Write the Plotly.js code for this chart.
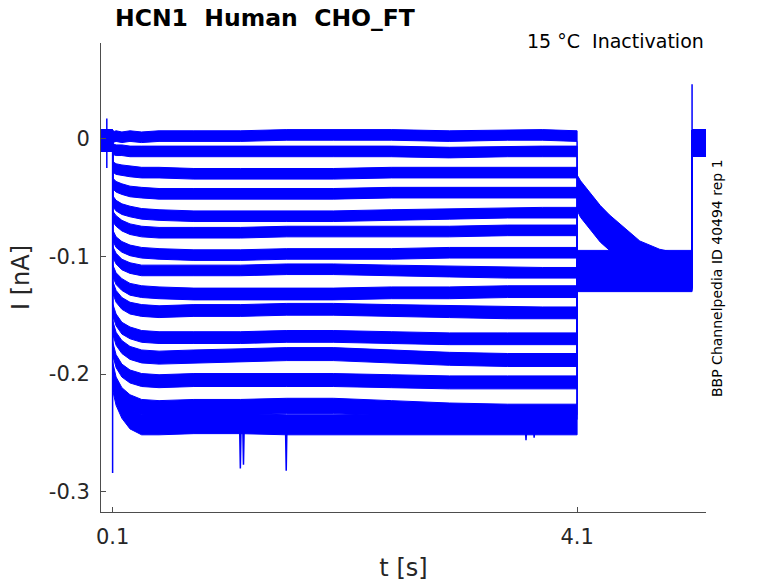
<!DOCTYPE html>
<html>
<head>
<meta charset="utf-8">
<script src="https://cdn.plot.ly/plotly-3.0.1.min.js"></script>
<style>html,body{margin:0;padding:0;background:#fff;}#chart{width:778px;height:583px;}</style>
</head>
<body>
<div id="chart"></div>
<script>
// ---- data ----
// shared time bases (s)
var T_PRE  = [0, 0.05, 0.1];
var T_STEP = [0.1, 0.13, 0.18, 0.25, 0.35, 0.5, 0.8, 1.2, 1.6, 2.0, 2.5, 3.0, 3.5, 3.8, 4.1];
var T_POST = [4.1, 4.13, 4.21, 4.3, 4.38, 4.53, 4.64, 4.81, 4.95, 5.09];
var T_END  = [5.09, 5.21];

// holding level before the step and after the return (nA)
var PRE_LEVEL = [-0.002, -0.002, -0.002];
var END_LEVEL = [-0.004, -0.004];

// current during the conditioning step (nA), one row per sweep
var STEP = [
  [0.001, 0.002, 0.001, 0.002, 0.001, 0.002, 0.002, 0.002, 0.003, 0.003, 0.003, 0.002, 0.003, 0.003, 0.002],
  [-0.009, -0.010, -0.010, -0.011, -0.011, -0.011, -0.011, -0.011, -0.011, -0.011, -0.011, -0.012, -0.011, -0.011, -0.011],
  [-0.024, -0.026, -0.027, -0.028, -0.029, -0.029, -0.030, -0.030, -0.030, -0.030, -0.029, -0.029, -0.029, -0.029, -0.029],
  [-0.038, -0.041, -0.043, -0.045, -0.046, -0.047, -0.047, -0.047, -0.047, -0.047, -0.046, -0.046, -0.046, -0.046, -0.046],
  [-0.053, -0.057, -0.060, -0.062, -0.064, -0.065, -0.066, -0.066, -0.066, -0.066, -0.065, -0.064, -0.063, -0.063, -0.063],
  [-0.066, -0.070, -0.074, -0.077, -0.079, -0.080, -0.080, -0.080, -0.079, -0.079, -0.079, -0.079, -0.078, -0.078, -0.078],
  [-0.082, -0.088, -0.092, -0.095, -0.097, -0.098, -0.099, -0.099, -0.098, -0.098, -0.098, -0.097, -0.097, -0.097, -0.097],
  [-0.096, -0.102, -0.107, -0.110, -0.112, -0.112, -0.112, -0.112, -0.111, -0.111, -0.112, -0.113, -0.114, -0.114, -0.114],
  [-0.112, -0.119, -0.124, -0.128, -0.130, -0.131, -0.132, -0.132, -0.132, -0.132, -0.131, -0.131, -0.130, -0.130, -0.130],
  [-0.126, -0.134, -0.140, -0.144, -0.146, -0.147, -0.146, -0.146, -0.145, -0.145, -0.146, -0.147, -0.148, -0.148, -0.148],
  [-0.145, -0.154, -0.161, -0.165, -0.168, -0.169, -0.169, -0.169, -0.168, -0.168, -0.169, -0.170, -0.170, -0.170, -0.170],
  [-0.160, -0.170, -0.177, -0.182, -0.185, -0.186, -0.185, -0.184, -0.183, -0.183, -0.185, -0.187, -0.188, -0.188, -0.188],
  [-0.178, -0.189, -0.197, -0.202, -0.205, -0.206, -0.205, -0.205, -0.205, -0.205, -0.206, -0.207, -0.207, -0.207, -0.207],
  [-0.196, -0.209, -0.218, -0.224, -0.228, -0.229, -0.228, -0.228, -0.227, -0.227, -0.229, -0.231, -0.232, -0.232, -0.232],
  [-0.205, -0.218, -0.229, -0.238, -0.243, -0.243, -0.242, -0.242, -0.243, -0.243, -0.243, -0.243, -0.243, -0.243, -0.243]
];

// current during the test pulse (nA), one row per sweep
var POST = [
  [-0.040, -0.045, -0.055, -0.066, -0.074, -0.087, -0.096, -0.103, -0.106, -0.108],
  [-0.052, -0.058, -0.068, -0.079, -0.086, -0.096, -0.102, -0.106, -0.108, -0.109],
  [-0.106, -0.106, -0.106, -0.106, -0.106, -0.106, -0.106, -0.106, -0.106, -0.106],
  [-0.108, -0.108, -0.108, -0.108, -0.108, -0.108, -0.108, -0.108, -0.108, -0.108],
  [-0.110, -0.110, -0.110, -0.110, -0.110, -0.110, -0.110, -0.110, -0.110, -0.110],
  [-0.111, -0.111, -0.111, -0.111, -0.111, -0.111, -0.111, -0.111, -0.111, -0.111],
  [-0.112, -0.112, -0.112, -0.112, -0.112, -0.112, -0.112, -0.112, -0.112, -0.112],
  [-0.113, -0.113, -0.113, -0.113, -0.113, -0.113, -0.113, -0.113, -0.113, -0.113],
  [-0.114, -0.114, -0.114, -0.114, -0.114, -0.114, -0.114, -0.114, -0.114, -0.114],
  [-0.115, -0.115, -0.115, -0.115, -0.115, -0.115, -0.115, -0.115, -0.115, -0.115],
  [-0.116, -0.116, -0.116, -0.116, -0.116, -0.116, -0.116, -0.116, -0.116, -0.116],
  [-0.116, -0.116, -0.116, -0.116, -0.116, -0.116, -0.116, -0.116, -0.116, -0.116],
  [-0.117, -0.117, -0.117, -0.117, -0.117, -0.117, -0.117, -0.117, -0.117, -0.117],
  [-0.118, -0.118, -0.118, -0.118, -0.118, -0.118, -0.118, -0.118, -0.118, -0.118],
  [-0.119, -0.119, -0.119, -0.119, -0.119, -0.119, -0.119, -0.119, -0.119, -0.119]
];

// half-width of the noise band of each sweep (nA)
var NOISE_PRE  = 0.009;
var NOISE_STEP = [0.0045, 0.0045, 0.0045, 0.0045, 0.0045, 0.0045, 0.0045, 0.0045, 0.005, 0.005, 0.005, 0.0055, 0.0055, 0.0065, 0.0085];
var NOISE_POST = [0.009, 0.009, 0.011, 0.011, 0.011, 0.011, 0.011, 0.011, 0.011, 0.011, 0.011, 0.011, 0.011, 0.011, 0.011];
var NOISE_END  = 0.011;

// single-sample spikes / transients: time, low and high current (nA)
var SPIKE_T  = [0.05, 0.1, 5.09];
var SPIKE_LO = [-0.025, -0.284, -0.125];
var SPIKE_HI = [0.017, -0.002, 0.046];

// short downward glitches on the largest sweep: time, depth (nA)
var GLITCH_T     = [1.20, 1.227, 1.595, 3.66, 3.73];
var GLITCH_DEPTH = [-0.280, -0.277, -0.282, -0.256, -0.254];
var GLITCH_BASE  = -0.245;

var TICK_X = [0.1, 4.1];
var TICK_X_TEXT = ['0.1', '4.1'];
var TICK_Y = [-0.3, -0.2, -0.1, 0];
var TICK_Y_TEXT = ['-0.3', '-0.2', '-0.1', '0'];

// ---- build traces ----
var BLUE = '#0000ff';
var traces = [];
for (var k = 0; k < STEP.length; k++) {
  var xs = [], ys = [], ss = [];
  T_PRE.forEach(function (t, i) { xs.push(t); ys.push(PRE_LEVEL[i]); ss.push(NOISE_PRE); });
  T_STEP.forEach(function (t, i) { xs.push(t); ys.push(STEP[k][i]); ss.push(NOISE_STEP[k]); });
  T_POST.forEach(function (t, i) { xs.push(t); ys.push(POST[k][i]); ss.push(NOISE_POST[k]); });
  T_END.forEach(function (t, i) { xs.push(t); ys.push(END_LEVEL[i]); ss.push(NOISE_END); });
  var px = [], py = [];
  for (var i = 0; i < xs.length; i++) { px.push(xs[i]); py.push(ys[i] + ss[i]); }
  for (var j = xs.length - 1; j >= 0; j--) { px.push(xs[j]); py.push(ys[j] - ss[j]); }
  traces.push({
    type: 'scatter', mode: 'lines', x: px, y: py,
    fill: 'toself', fillcolor: BLUE,
    line: { color: BLUE, width: 1 }, hoverinfo: 'skip', showlegend: false
  });
}
for (var s = 0; s < SPIKE_T.length; s++) {
  traces.push({
    type: 'scatter', mode: 'lines',
    x: [SPIKE_T[s], SPIKE_T[s]], y: [SPIKE_LO[s], SPIKE_HI[s]],
    line: { color: BLUE, width: 1.5 }, hoverinfo: 'skip', showlegend: false
  });
}
for (var g = 0; g < GLITCH_T.length; g++) {
  traces.push({
    type: 'scatter', mode: 'lines',
    x: [GLITCH_T[g] - 0.006, GLITCH_T[g], GLITCH_T[g] + 0.006],
    y: [GLITCH_BASE, GLITCH_DEPTH[g], GLITCH_BASE],
    line: { color: BLUE, width: 1.5 }, hoverinfo: 'skip', showlegend: false
  });
}

var FONT = 'DejaVu Sans, sans-serif';
var AX = '#4d4d4d';
var layout = {
  width: 778, height: 583,
  margin: { l: 101, r: 72, t: 43, b: 71, pad: 0 },
  paper_bgcolor: '#ffffff', plot_bgcolor: '#ffffff',
  showlegend: false, hovermode: false,
  title: {
    text: '<b>HCN1\u00a0 Human\u00a0 CHO_FT</b>',
    font: { family: FONT, size: 23.5, color: '#000000' },
    xref: 'container', yref: 'container',
    x: 115 / 778, xanchor: 'left', y: 1 - 18 / 583, yanchor: 'middle'
  },
  xaxis: {
    range: [0, 5.21], showgrid: false, zeroline: false,
    showline: true, linecolor: AX, linewidth: 1, mirror: false,
    ticks: 'inside', ticklen: 5, tickcolor: AX, tickwidth: 1,
    tickvals: TICK_X, ticktext: TICK_X_TEXT,
    tickfont: { family: FONT, size: 21, color: '#262626' },
    ticklabelstandoff: 6,
    title: { text: 't [s]', font: { family: FONT, size: 24, color: '#262626' }, standoff: 10 }
  },
  yaxis: {
    range: [-0.317, 0.081], showgrid: false, zeroline: false,
    showline: true, linecolor: AX, linewidth: 1, mirror: false,
    ticks: 'inside', ticklen: 5, tickcolor: AX, tickwidth: 1,
    tickvals: TICK_Y, ticktext: TICK_Y_TEXT,
    tickfont: { family: FONT, size: 21, color: '#262626' },
    ticklabelstandoff: 6,
    title: { text: 'I [nA]', font: { family: FONT, size: 24, color: '#262626' }, standoff: 12 }
  },
  annotations: [
    {
      text: '15 °C\u00a0 Inactivation', xref: 'paper', yref: 'paper',
      x: 1, xanchor: 'right', y: (512 - 41) / 469, yanchor: 'middle',
      showarrow: false, font: { family: FONT, size: 19, color: '#000000' }
    },
    {
      text: 'BBP Channelpedia ID 40494 rep 1', xref: 'paper', yref: 'paper',
      x: (717 - 101) / 605, xanchor: 'center', y: (512 - 278) / 469, yanchor: 'middle',
      textangle: -90, showarrow: false, font: { family: FONT, size: 14, color: '#000000' }
    }
  ]
};

Plotly.newPlot('chart', traces, layout, { displayModeBar: false, staticPlot: true });
</script>
</body>
</html>
